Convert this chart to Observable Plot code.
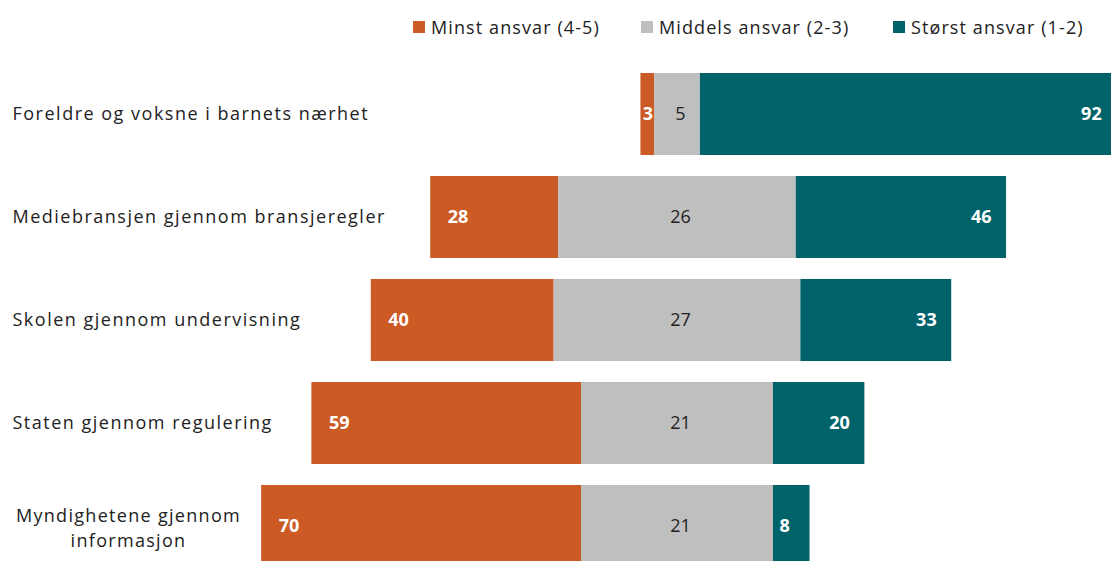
<!DOCTYPE html>
<html>
<head>
<meta charset="utf-8">
<script src="https://cdn.jsdelivr.net/npm/d3@7"></script>
<script src="https://cdn.jsdelivr.net/npm/@observablehq/plot@0.6"></script>
<style>
  html, body { margin: 0; padding: 0; background: #fff; }
  #wrap { width: 1111px; height: 561px; overflow: hidden; position: relative; }
  #legend { position: relative; height: 55px; width: 1111px; font-family: "Open Sans", "Noto Sans", sans-serif; font-size: 18px; letter-spacing: 1.1px; color: #222; }
  .item { position: absolute; top: 15px; display: flex; align-items: center; white-space: nowrap; }
  .sw { width: 12px; height: 12px; margin-right: 6px; display: inline-block; }
  svg { overflow: hidden; }
</style>
</head>
<body>
<div id="wrap">
  <div id="legend"></div>
  <div id="chart"></div>
</div>
<script>
const categories = [
  "Foreldre og voksne i barnets nærhet",
  "Mediebransjen gjennom bransjeregler",
  "Skolen gjennom undervisning",
  "Staten gjennom regulering",
  "Myndighetene gjennom\ninformasjon"
];
const minst = [3, 28, 40, 59, 70];
const middels = [5, 26, 27, 21, 21];
const storst = [92, 46, 33, 20, 8];
const seriesNames = ["Minst ansvar (4-5)", "Middels ansvar (2-3)", "Størst ansvar (1-2)"];
const colors = ["#CC5A24", "#BFBFBF", "#00636A"];

const rows = categories.map((c, i) => ({cat: c, minst: minst[i], middels: middels[i], storst: storst[i]}));

// Legend
const legendX = [413, 641, 893];
const legend = document.getElementById("legend");
seriesNames.forEach((name, i) => {
  const d = document.createElement("div");
  d.className = "item";
  d.style.left = legendX[i] + "px";
  d.innerHTML = `<span class="sw" style="background:${colors[i]}"></span><span>${name}</span>`;
  legend.appendChild(d);
});

// segments: gray centered spanning [-middels, +middels]
const segs = [];
rows.forEach(r => {
  segs.push({cat: r.cat, s: seriesNames[0], x1: -r.middels - r.minst, x2: -r.middels, v: r.minst});
  segs.push({cat: r.cat, s: seriesNames[1], x1: -r.middels, x2: r.middels, v: r.middels});
  segs.push({cat: r.cat, s: seriesNames[2], x1: r.middels, x2: r.middels + r.storst, v: r.storst});
});
const orange = segs.filter(d => d.s === seriesNames[0]);
const gray = segs.filter(d => d.s === seriesNames[1]);
const teal = segs.filter(d => d.s === seriesNames[2]);

const barFont = '"Open Sans", "Noto Sans", sans-serif';
const labFont = '"Open Sans", "Noto Sans", sans-serif';
const common = {fontSize: 18, fontFamily: barFont};

const chart = Plot.plot({
  width: 1111,
  height: 506,
  marginLeft: 0,
  marginRight: 0,
  marginTop: 0,
  marginBottom: 0,
  x: {domain: [-100, 100], range: [220, 1134], axis: null},
  y: {domain: categories, range: [6, 523.5], paddingInner: 0.208, paddingOuter: 0.104, axis: null},
  color: {domain: seriesNames, range: colors},
  marks: [
    Plot.barX(segs, {y: "cat", x1: "x1", x2: "x2", fill: "s"}),
    // orange labels
    Plot.text(orange.filter(d => d.v >= 10), {...common, y: "cat", x: "x1", text: d => String(d.v), textAnchor: "start", dx: 17, fill: "white", fontWeight: "bold"}),
    Plot.text(orange.filter(d => d.v < 10), {...common, y: "cat", x: d => (d.x1 + d.x2) / 2, text: d => String(d.v), fill: "white", fontWeight: "bold"}),
    // gray labels
    Plot.text(gray, {...common, y: "cat", x: 0, text: d => String(d.v), dx: 3, fill: "#222"}),
    // teal labels
    Plot.text(teal.filter(d => d.v >= 10), {...common, y: "cat", x: d => Math.min(d.x2, 96.1), text: d => String(d.v), textAnchor: "end", dx: -15, fill: "white", fontWeight: "bold"}),
    Plot.text(teal.filter(d => d.v < 10), {...common, y: "cat", x: "x1", text: d => String(d.v), textAnchor: "start", dx: 6, fill: "white", fontWeight: "bold"}),
    // category labels
    Plot.text(categories.filter(c => !c.includes("\n")), {y: d => d, frameAnchor: "left", textAnchor: "start", dx: 12, fill: "#222", fontSize: 18, fontFamily: labFont}),
    Plot.text(categories.filter(c => c.includes("\n")), {y: d => d, frameAnchor: "left", textAnchor: "middle", dx: 128, lineHeight: 1.4, fill: "#222", fontSize: 18, fontFamily: labFont})
  ]
});
const textGroups = chart.querySelectorAll('g[aria-label="text"]');
const n = textGroups.length;
textGroups[n - 2].setAttribute("letter-spacing", "1.5px");
textGroups[n - 1].setAttribute("letter-spacing", "1.3px");
document.getElementById("chart").appendChild(chart);
</script>
</body>
</html>
